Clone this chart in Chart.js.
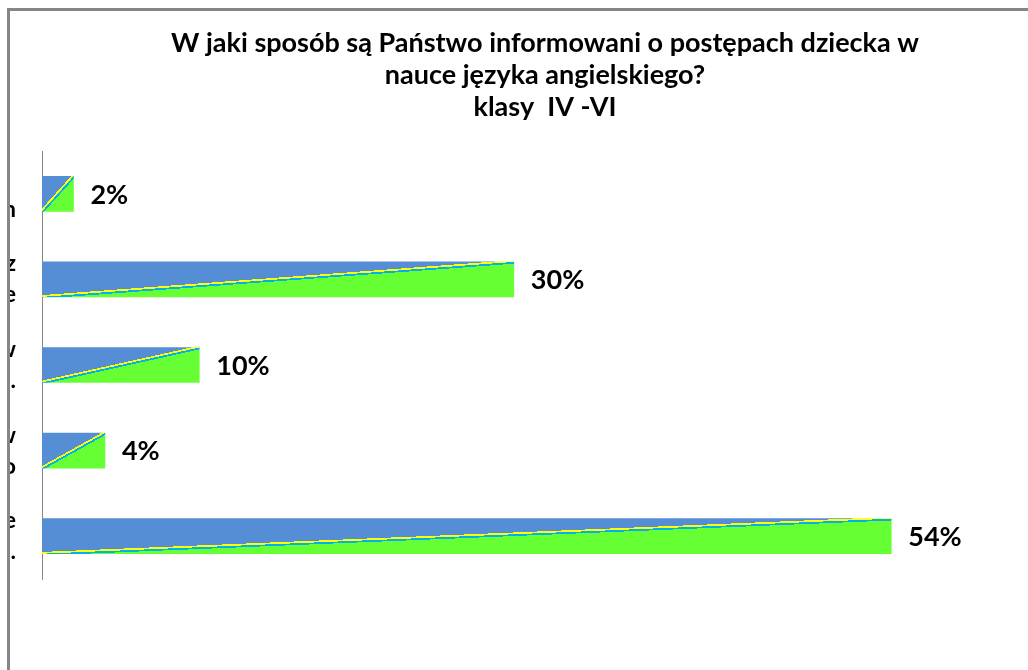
<!DOCTYPE html>
<html>
<head>
<meta charset="utf-8">
<script src="https://cdn.jsdelivr.net/npm/chart.js@4.4.1/dist/chart.umd.min.js"></script>
<style>
    html, body { margin: 0; padding: 0; background: #fff; overflow: hidden; width: 1028px; height: 670px; }
    .frame { position: absolute; left: 7px; top: 8px; width: 1100px; height: 700px;
             border-left: 3px solid #868686; border-top: 3px solid #868686; }
    .chart-box { position: absolute; left: 10px; top: 11px; width: 1070px; height: 659px; }
</style>
</head>
<body>
<div class="frame"></div>
<div class="chart-box"><canvas id="surveyChart"></canvas></div>
<script>
// Data
const titleLines = [
    'W jaki sposób są Państwo informowani o postępach dziecka w',
    'nauce języka angielskiego?',
    'klasy  IV -VI'
];
// category labels (mostly cut off by the left edge in the original)
const categories = [
    ['w inny sposób, np.   ', 'rozmowa przez telefon'],
    ['podczas zebrań oraz', 'rozmów indywidualnych w szkole'],
    ['informacje w dzienniczku, zeszycie lub w', 'dzienniku elektronicznym itp.'],
    ['poprzez uwagi i oceny wpisane w', 'zeszycie przedmiotowym lub przez dziecko'],
    ['tylko podczas zebrań z rodzicami w szkole', 'i konsultacji z nauczycielem itd.']
];
const percents = [2, 30, 10, 4, 54];
const axisMax = 66;

const BLUE = '#558ED5';
const GREEN = '#66FF33';
const YELLOW = '#FFFF00';
const CYAN = '#00B0F0';
const BAR_H = 35;
const FONT = 'Lato, "Open Sans", sans-serif';

// Diagonal split fill: blue top-left, green bottom-right, thin yellow/cyan seam
function barFill(c) {
    const chart = c.chart;
    const xs = chart.scales.x, ys = chart.scales.y;
    if (c.type !== 'data' || !xs || !ys) return BLUE;
    const x0 = xs.getPixelForValue(0);
    const x1 = xs.getPixelForValue(c.raw);
    const yc = ys.getPixelForValue(c.dataIndex);
    if (![x0, x1, yc].every(Number.isFinite)) return BLUE;
    const w = Math.max(x1 - x0, 1), h = BAR_H;
    const len = Math.hypot(w, h);
    const nx = h / len, ny = w / len;
    const d = w * h / len;
    const mx = x0 + w / 2;
    const g = chart.ctx.createLinearGradient(mx - nx * d, yc - ny * d, mx + nx * d, yc + ny * d);
    const dt = 1.8 / (2 * d);
    g.addColorStop(0, BLUE);
    g.addColorStop(0.5 - dt, BLUE);
    g.addColorStop(0.5 - dt, YELLOW);
    g.addColorStop(0.5, YELLOW);
    g.addColorStop(0.5, CYAN);
    g.addColorStop(0.5 + dt, CYAN);
    g.addColorStop(0.5 + dt, GREEN);
    g.addColorStop(1, GREEN);
    return g;
}

// Percent labels to the right of each bar
const valueLabels = {
    id: 'valueLabels',
    afterDatasetsDraw(chart) {
        const ctx = chart.ctx;
        const meta = chart.getDatasetMeta(0);
        ctx.save();
        ctx.fillStyle = '#000';
        ctx.font = 'bold 27px ' + FONT;
        ctx.textAlign = 'left';
        ctx.textBaseline = 'middle';
        meta.data.forEach((bar, i) => {
            ctx.fillText(percents[i] + '%', bar.x + 17, bar.y + 1);
        });
        ctx.restore();
    }
};

const ctx = document.getElementById('surveyChart').getContext('2d');
new Chart(ctx, {
    type: 'bar',
    data: {
        labels: categories,
        datasets: [{
            data: percents,
            backgroundColor: barFill,
            borderWidth: 0,
            barThickness: BAR_H
        }]
    },
    options: {
        indexAxis: 'y',
        responsive: true,
        maintainAspectRatio: false,
        animation: false,
        layout: { padding: { top: 0, left: 0, right: 0, bottom: 91 } },
        plugins: {
            legend: { display: false },
            tooltip: { enabled: false },
            title: {
                display: true,
                text: titleLines,
                color: '#000',
                font: { family: FONT, size: 27, weight: 'bold', lineHeight: 32 / 27 },
                padding: { top: 16, bottom: 28 }
            }
        },
        scales: {
            x: { display: false, min: 0, max: axisMax },
            y: {
                grid: { display: false, drawTicks: false },
                border: { display: true, color: '#868686', width: 1 },
                ticks: {
                    color: '#000',
                    autoSkip: false,
                    padding: 26,
                    font: { family: FONT, size: 23, weight: 'bold', lineHeight: 31 / 23 }
                },
                afterFit: function (scale) { scale.width = 32; }
            }
        }
    },
    plugins: [valueLabels]
});
</script>
</body>
</html>
